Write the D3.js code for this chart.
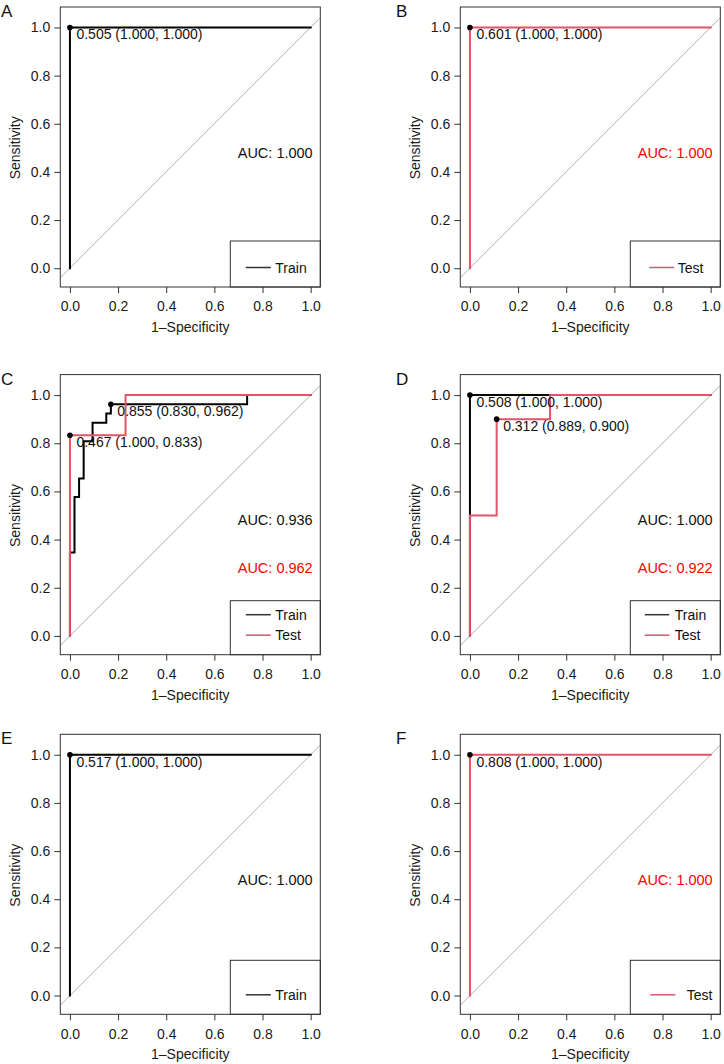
<!DOCTYPE html>
<html>
<head>
<meta charset="utf-8">
<title>ROC curves</title>
<script type="text/javascript" src="https://d3js.org/d3.v7.js"></script>
<style>
    * { margin: 0; padding: 0; }
    body { background: #fff; }
    text { font-family: "Liberation Sans", Arial, Helvetica, sans-serif; }
</style>
</head>
<body>
<div id="chart"></div>
<script type="text/javascript">

// ---- data ----
const tickValues = [0, 0.2, 0.4, 0.6, 0.8, 1.0];
const panelLabels = ["A", "B", "C", "D", "E", "F"];

// A: train only
const aTrainFpr = [0, 0, 1];
const aTrainTpr = [0, 1, 1];
// B: test only
const bTestFpr = [0, 0, 1];
const bTestTpr = [0, 1, 1];
// C: train + test
const cTrainFpr = [0, 0, 0.019, 0.019, 0.038, 0.038, 0.057, 0.057, 0.094, 0.094, 0.151, 0.151, 0.170, 0.170, 0.736, 0.736, 1];
const cTrainTpr = [0, 0.346, 0.346, 0.577, 0.577, 0.654, 0.654, 0.808, 0.808, 0.885, 0.885, 0.923, 0.923, 0.962, 0.962, 1, 1];
const cTestFpr = [0, 0, 0.231, 0.231, 1];
const cTestTpr = [0, 0.833, 0.833, 1, 1];
// D: train + test
const dTrainFpr = [0, 0, 1];
const dTrainTpr = [0, 1, 1];
const dTestFpr = [0, 0, 0.111, 0.111, 0.333, 0.333, 1];
const dTestTpr = [0, 0.5, 0.5, 0.9, 0.9, 1, 1];
// E: train only
const eTrainFpr = [0, 0, 1];
const eTrainTpr = [0, 1, 1];
// F: test only
const fTestFpr = [0, 0, 1];
const fTestTpr = [0, 1, 1];

// best thresholds: [fpr, tpr, label]
const aBest = [[0, 1, "0.505 (1.000, 1.000)"]];
const bBest = [[0, 1, "0.601 (1.000, 1.000)"]];
const cBest = [[0.170, 0.962, "0.855 (0.830, 0.962)"], [0, 0.833, "0.467 (1.000, 0.833)"]];
const dBest = [[0, 1, "0.508 (1.000, 1.000)"], [0.111, 0.9, "0.312 (0.889, 0.900)"]];
const eBest = [[0, 1, "0.517 (1.000, 1.000)"]];
const fBest = [[0, 1, "0.808 (1.000, 1.000)"]];

const aucTrain = { A: "1.000", C: "0.936", D: "1.000", E: "1.000" };
const aucTest  = { B: "1.000", C: "0.962", D: "0.922", F: "1.000" };

// ---- styles / layout ----
const TRAIN = "#000000";
const TEST = "#DF536B";
const AUC_RED = "#FF0000";

const colX = [[60.3, 320.3], [460.3, 720.3]];
const rowY = [[7, 287], [374.6, 654.7], [734.3, 1014.3]];
const xDomain = [-0.04, 1.04];
const yDomain = [-0.078, 1.085];

const panels = [
    { label: "A", col: 0, row: 0, train: [aTrainFpr, aTrainTpr], best: aBest, leg: { h: 46, l0: 15.5, l1: 40.5, tx: 45 } },
    { label: "B", col: 1, row: 0, test: [bTestFpr, bTestTpr], best: bBest, leg: { h: 46, l0: 19, l1: 44, tx: 47.5 } },
    { label: "C", col: 0, row: 1, train: [cTrainFpr, cTrainTpr], test: [cTestFpr, cTestTpr], best: cBest, leg: { h: 54, l0: 15.5, l1: 40.5, tx: 45 } },
    { label: "D", col: 1, row: 1, train: [dTrainFpr, dTrainTpr], test: [dTestFpr, dTestTpr], best: dBest, leg: { h: 54, l0: 14.5, l1: 39, tx: 44.5 } },
    { label: "E", col: 0, row: 2, train: [eTrainFpr, eTrainTpr], best: eBest, leg: { h: 54, l0: 15.5, l1: 40.5, tx: 45 } },
    { label: "F", col: 1, row: 2, test: [fTestFpr, fTestTpr], best: fBest, leg: { h: 54, l0: 20, l1: 45, tx: 56.5 } }
];

const svg = d3.select("#chart").append("svg")
    .attr("width", 724)
    .attr("height", 1064)
    .style("background", "#fff");

panels.forEach((p, i) => drawPanel(p, i));

function drawPanel(p, i) {
    const [bx0, bx1] = colX[p.col];
    const [by0, by1] = rowY[p.row];

    const x = d3.scaleLinear().domain(xDomain).range([bx0, bx1]);
    const y = d3.scaleLinear().domain(yDomain).range([by1, by0]);

    const g = svg.append("g");

    // panel letter
    g.append("text")
        .attr("x", p.col === 0 ? 1 : 396)
        .attr("y", by0 + 10)
        .attr("font-size", 17)
        .attr("fill", "#111")
        .text(panelLabels[i]);

    // clip for the plot region
    const clipId = "clip" + i;
    g.append("clipPath").attr("id", clipId)
        .append("rect")
        .attr("x", bx0).attr("y", by0)
        .attr("width", bx1 - bx0).attr("height", by1 - by0);

    // diagonal reference
    g.append("line")
        .attr("clip-path", `url(#${clipId})`)
        .attr("x1", x(xDomain[0])).attr("y1", y(xDomain[0]))
        .attr("x2", x(xDomain[1])).attr("y2", y(xDomain[1]))
        .attr("stroke", "#b0b0b0")
        .attr("stroke-width", 1);

    const line = d3.line().x(d => x(d[0])).y(d => y(d[1]));

    function curve(pair, color) {
        const pts = pair[0].map((v, k) => [v, pair[1][k]]);
        g.append("path")
            .attr("d", line(pts))
            .attr("fill", "none")
            .attr("stroke", color)
            .attr("stroke-width", 2)
            .attr("stroke-linejoin", "miter")
            .attr("stroke-linecap", "square");
    }
    if (p.train) curve(p.train, TRAIN);
    if (p.test) curve(p.test, TEST);

    // best threshold points + labels
    p.best.forEach(b => {
        g.append("circle")
            .attr("cx", x(b[0])).attr("cy", y(b[1]))
            .attr("r", 2.8)
            .attr("fill", "#000");
        g.append("text")
            .attr("x", x(b[0]) + 6.5)
            .attr("y", y(b[1]) + 12)
            .attr("font-size", 14)
            .attr("fill", "#111")
            .text(b[2]);
    });

    // AUC text
    if (aucTrain[p.label]) {
        g.append("text")
            .attr("x", x(0.697)).attr("y", y(0.48) + 5)
            .attr("font-size", 14.5)
            .attr("fill", "#111")
            .text("AUC: " + aucTrain[p.label]);
    }
    if (aucTest[p.label]) {
        g.append("text")
            .attr("x", x(0.697)).attr("y", y(aucTrain[p.label] ? 0.28 : 0.48) + 5)
            .attr("font-size", 14.5)
            .attr("fill", AUC_RED)
            .text("AUC: " + aucTest[p.label]);
    }

    // axes
    const xAxis = g.append("g")
        .attr("transform", `translate(0,${by1})`)
        .call(d3.axisBottom(x).tickValues(tickValues).tickFormat(d3.format(".1f")).tickSize(6).tickPadding(8.5));
    const yAxis = g.append("g")
        .attr("transform", `translate(${bx0},0)`)
        .call(d3.axisLeft(y).tickValues(tickValues).tickFormat(d3.format(".1f")).tickSize(6).tickPadding(4));
    [xAxis, yAxis].forEach(a => {
        a.select(".domain").remove();
        a.selectAll(".tick line").attr("stroke", "#333");
        a.selectAll(".tick text")
            .attr("font-size", 14)
            .attr("fill", "#1a1a1a")
            .style("font-family", '"Liberation Sans", Arial, sans-serif');
    });

    // axis titles
    g.append("text")
        .attr("x", (x(0) + x(1)) / 2)
        .attr("y", by1 + 45)
        .attr("text-anchor", "middle")
        .attr("font-size", 14)
        .attr("fill", "#1a1a1a")
        .text("1\u2013Specificity");
    g.append("text")
        .attr("transform", `translate(${bx0 - 40},${(y(0) + y(1)) / 2}) rotate(-90)`)
        .attr("text-anchor", "middle")
        .attr("font-size", 14)
        .attr("fill", "#1a1a1a")
        .text("Sensitivity");

    // legend (bottom right)
    const names = [];
    if (p.train) names.push(["Train", "#333"]);
    if (p.test) names.push(["Test", TEST]);
    const lx = bx1 - 90;
    const lg = g.append("g");
    lg.append("rect")
        .attr("x", lx).attr("y", by1 - p.leg.h)
        .attr("width", 90).attr("height", p.leg.h)
        .attr("fill", "#fff")
        .attr("stroke", "#333")
        .attr("stroke-width", 1);
    names.forEach((n, k) => {
        const ly = by1 - 19.5 - (names.length - 1 - k) * 20.5;
        lg.append("line")
            .attr("x1", lx + p.leg.l0).attr("x2", lx + p.leg.l1)
            .attr("y1", ly).attr("y2", ly)
            .attr("stroke", n[1])
            .attr("stroke-width", 1.5);
        lg.append("text")
            .attr("x", lx + p.leg.tx).attr("y", ly + 5)
            .attr("font-size", 14)
            .attr("fill", "#111")
            .text(n[0]);
    });

    // plot frame
    g.append("rect")
        .attr("x", bx0).attr("y", by0)
        .attr("width", bx1 - bx0).attr("height", by1 - by0)
        .attr("fill", "none")
        .attr("stroke", "#333")
        .attr("stroke-width", 1);
}
</script>
</body>
</html>
